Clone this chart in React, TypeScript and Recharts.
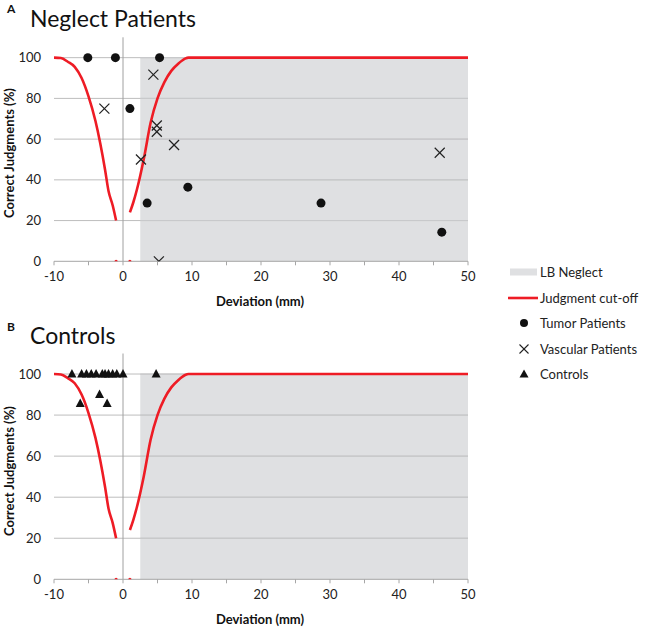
import React from 'react';
import { ComposedChart, XAxis, YAxis, Line, Scatter, ReferenceArea, ReferenceLine } from 'recharts';

// Judgment cut-off curve (two branches)
const cutoffLeft = [
  { x: -10, y: 100 }, { x: -9, y: 99.8 }, { x: -8, y: 98 }, { x: -7, y: 95.5 }, { x: -6, y: 90 },
  { x: -5, y: 81 }, { x: -4, y: 69 }, { x: -3.3, y: 58 }, { x: -2.6, y: 45 }, { x: -2.1, y: 34.5 },
  { x: -1.5, y: 27.5 }, { x: -1, y: 20 },
];
const cutoffRight = [
  { x: 1, y: 24 }, { x: 1.5, y: 29 }, { x: 2, y: 35 }, { x: 3, y: 50 }, { x: 4, y: 68 },
  { x: 5, y: 80 }, { x: 6, y: 88 }, { x: 7, y: 93.5 }, { x: 8, y: 97 }, { x: 9, y: 99.5 },
  { x: 9.5, y: 100 }, { x: 50, y: 100 },
];
const cutoffZero = [{ x: -1, y: 0 }, { x: 1, y: 0 }];

// Neglect patients
const tumorX = [-5.1, -1.1, 5.3, 1.0, 3.5, 9.4, 28.7, 46.2];
const tumorY = [100, 100, 100, 75, 28.6, 36.4, 28.6, 14.3];
const vascularX = [-2.7, 4.4, 4.9, 4.9, 7.4, 2.6, 5.2, 45.9];
const vascularY = [75, 91.7, 66.7, 63.6, 57.1, 50, 0, 53.3];

// Controls
const controlX = [-7.4, -6.0, -5.3, -4.6, -3.9, -3.0, -2.6, -2.1, -1.5, -0.9, 0, 4.8, -6.2, -3.4, -2.3];
const controlY = [100, 100, 100, 100, 100, 100, 100, 100, 100, 100, 100, 100, 85.7, 90, 85.7];

const xTicks = [-10, -5, 0, 5, 10, 15, 20, 25, 30, 35, 40, 45, 50];
const yTicks = [0, 20, 40, 60, 80, 100];
const gridValues = [20, 40, 60, 80, 100];

const zip = (xs: number[], ys: number[]) => xs.map((x, i) => ({ x, y: ys[i] }));

const FONT = 'Lato, "Open Sans", sans-serif';
const RED = '#ee1c25';
const SHADE = '#dfe0e2';

const Dot = (p: any) => <circle cx={p.cx} cy={p.cy} r={4.5} fill="#111" />;
const Cross = (p: any) => (
  <g stroke="#222" strokeWidth={1.2}>
    <line x1={p.cx - 5} y1={p.cy - 5} x2={p.cx + 5} y2={p.cy + 5} />
    <line x1={p.cx - 5} y1={p.cy + 5} x2={p.cx + 5} y2={p.cy - 5} />
  </g>
);
const Tri = (p: any) => (
  <polygon points={`${p.cx},${p.cy - 5} ${p.cx - 4.5},${p.cy + 3.5} ${p.cx + 4.5},${p.cy + 3.5}`} fill="#111" />
);
const RedDot = (p: any) => <circle cx={p.cx} cy={p.cy} r={1.6} fill={RED} />;

type PanelProps = { top: number; marginTop: number; plotHeight: number; children?: React.ReactNode };

const H = 310;
const AXIS_H = 30;

function Panel({ top, marginTop, plotHeight, children }: PanelProps) {
  const bottom = H - marginTop - plotHeight - AXIS_H;
  return (
    <div style={{ position: 'absolute', left: 0, top, width: 645, height: H }}>
      <ComposedChart width={645} height={H} margin={{ top: marginTop, left: 14, right: 177, bottom }}>
        <XAxis
          type="number"
          dataKey="x"
          domain={[-10, 50]}
          ticks={xTicks}
          interval={0}
          allowDataOverflow
          height={AXIS_H}
          tickSize={4}
          tickMargin={6}
          stroke="#a6a6a6"
          tick={{ fill: '#222', fontSize: 13, fontFamily: FONT }}
          tickFormatter={(v: number) => (v % 10 === 0 ? String(v) : '')}
        />
        <YAxis
          type="number"
          dataKey="y"
          domain={[0, 110]}
          ticks={yTicks}
          interval={0}
          allowDataOverflow
          width={40}
          axisLine={false}
          tickLine={false}
          tickSize={0}
          tickMargin={13}
          tick={{ fill: '#222', fontSize: 13, fontFamily: FONT }}
        />
        {gridValues.map((v) => (
          <ReferenceLine key={'g' + v} y={v} stroke="#bdbdbd" strokeWidth={1} ifOverflow="visible" />
        ))}
        <ReferenceArea x1={2.5} x2={50} y1={0} y2={100} fill={SHADE} fillOpacity={1} stroke="none" />
        {gridValues.map((v) => (
          <ReferenceLine
            key={'s' + v}
            segment={[{ x: 2.5, y: v }, { x: 50, y: v }]}
            stroke="#c9cacc"
            strokeWidth={1}
          />
        ))}
        <ReferenceLine x={0} stroke="#a0a0a0" strokeWidth={1} />
        <Line data={cutoffLeft} dataKey="y" type="monotone" stroke={RED} strokeWidth={2.6} dot={false} isAnimationActive={false} />
        <Line data={cutoffRight} dataKey="y" type="monotone" stroke={RED} strokeWidth={2.6} dot={false} isAnimationActive={false} />
        <Scatter data={cutoffZero} dataKey="y" shape={RedDot} isAnimationActive={false} />
        {children}
      </ComposedChart>
    </div>
  );
}

function Legend() {
  const rows = [
    { label: 'LB Neglect', y: 272 },
    { label: 'Judgment cut-off', y: 298 },
    { label: 'Tumor Patients', y: 323 },
    { label: 'Vascular Patients', y: 349 },
    { label: 'Controls', y: 374 },
  ];
  return (
    <g fontFamily={FONT} fontSize={13} fill="#222">
      <rect x={510} y={268.5} width={27} height={7} fill={SHADE} />
      <line x1={508} y1={298} x2={538} y2={298} stroke={RED} strokeWidth={2.6} />
      <circle cx={524} cy={323} r={4} fill="#111" />
      <g stroke="#222" strokeWidth={1.1}>
        <line x1={519.5} y1={344.5} x2={528.5} y2={353.5} />
        <line x1={519.5} y1={353.5} x2={528.5} y2={344.5} />
      </g>
      <polygon points="524,369.5 519.5,377.5 528.5,377.5" fill="#111" />
      {rows.map((r) => (
        <text key={r.label} x={540} y={r.y} dominantBaseline="central">
          {r.label}
        </text>
      ))}
    </g>
  );
}

export default function App() {
  return (
    <div style={{ position: 'absolute', left: 0, top: 0, width: 645, height: 627, background: '#fff', overflow: 'hidden' }}>
      <Panel top={0} marginTop={37.3} plotHeight={224}>
        <Scatter data={zip(tumorX, tumorY)} dataKey="y" shape={Dot} isAnimationActive={false} />
        <Scatter data={zip(vascularX, vascularY)} dataKey="y" shape={Cross} isAnimationActive={false} />
      </Panel>
      <Panel top={316} marginTop={37.5} plotHeight={225.8}>
        <Scatter data={zip(controlX, controlY)} dataKey="y" shape={Tri} isAnimationActive={false} />
      </Panel>
      <svg width={645} height={627} style={{ position: 'absolute', left: 0, top: 0, pointerEvents: 'none' }}>
        <g fontFamily={FONT} fill="#111">
          <text x={7} y={13} fontSize={12} fontWeight="bold">A</text>
          <text x={30} y={27} fontSize={23}>Neglect Patients</text>
          <text x={7} y={331} fontSize={12} fontWeight="bold">B</text>
          <text x={30} y={344} fontSize={23}>Controls</text>
          <text x={260} y={301} fontSize={13} fontWeight="bold" textAnchor="middle" dominantBaseline="central">Deviation (mm)</text>
          <text x={260} y={619} fontSize={13} fontWeight="bold" textAnchor="middle" dominantBaseline="central">Deviation (mm)</text>
          <text x={14} y={153} fontSize={13} fontWeight="bold" textAnchor="middle" transform="rotate(-90 14 153)">Correct Judgments (%)</text>
          <text x={14} y={471} fontSize={13} fontWeight="bold" textAnchor="middle" transform="rotate(-90 14 471)">Correct Judgments (%)</text>
        </g>
        <Legend />
      </svg>
    </div>
  );
}
